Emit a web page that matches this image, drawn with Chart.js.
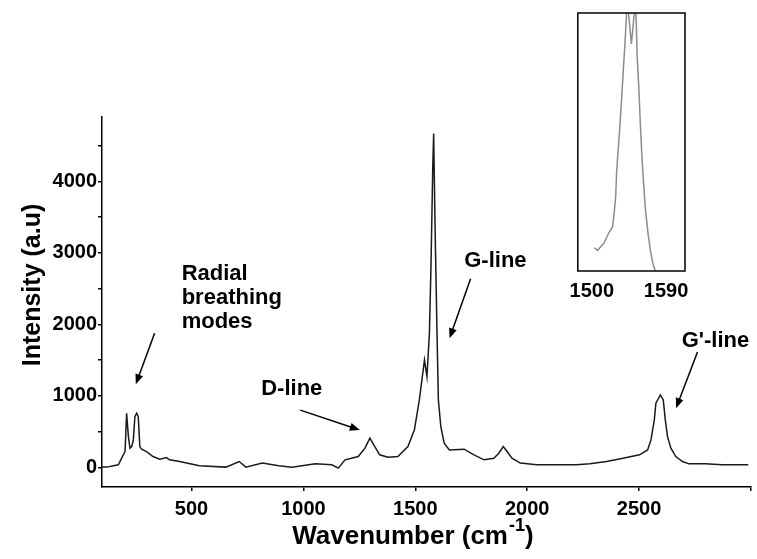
<!DOCTYPE html>
<html>
<head>
<meta charset="utf-8">
<script src="https://cdn.jsdelivr.net/npm/chart.js@4.4.0/dist/chart.umd.min.js"></script>
<style>
    html, body { margin: 0; padding: 0; background: #fff; }
    #wrap { position: relative; width: 757px; height: 559px; }
    #mainChart { position: absolute; left: 0; top: 0; }
    #insetChart { position: absolute; left: 560px; top: 0; }
</style>
</head>
<body>
<div id="wrap">
    <canvas id="mainChart" width="757" height="559"></canvas>
    <canvas id="insetChart" width="140" height="310"></canvas>
</div>
<script>
// main spectrum
const wavenumber = [100, 122, 151, 173, 188, 195, 203, 210, 218, 225, 233, 240, 247, 255, 262, 269, 277, 299, 328, 358,
    388, 402, 447, 535, 654, 713, 743, 816, 890, 949, 1053, 1127, 1156, 1186, 1245, 1275, 1297, 1319, 1341, 1378,
    1422, 1467, 1496, 1518, 1541, 1552, 1563, 1570, 1578, 1582, 1588, 1597, 1603, 1614, 1629, 1652, 1718, 1762, 1807, 1851,
    1873, 1893, 1910, 1932, 1969, 2043, 2132, 2221, 2280, 2354, 2428, 2502, 2538, 2553, 2568, 2575, 2595, 2608, 2617, 2627,
    2642, 2664, 2694, 2723, 2797, 2871, 2988];
const intensity = [3, 3, 21, 35, 128, 175, 221, 757, 430, 268, 290, 384, 709, 757, 709, 290, 254, 221, 151, 115,
    137, 105, 81, 21, 3, 81, 3, 59, 21, 3, 49, 35, -11, 105, 151, 268, 408, 290, 175, 142,
    151, 290, 524, 943, 1501, 1268, 1874, 2804, 4201, 4668, 3411, 1874, 943, 570, 338, 244, 254, 175, 105, 128,
    198, 290, 221, 128, 59, 35, 35, 35, 49, 81, 128, 175, 244, 384, 663, 897, 1013, 943, 663, 430,
    268, 151, 81, 49, 49, 35, 35];

const xTicks = [500, 1000, 1500, 2000, 2500, 3000];
const xLabels = [500, 1000, 1500, 2000, 2500];
const yTicks = [0, 500, 1000, 1500, 2000, 2500, 3000, 3500, 4000, 4500];
const yLabels = [0, 1000, 2000, 3000, 4000];

// inset: G band close up (relative scale, clipped at the top)
const insetX = [1503, 1507, 1515, 1521, 1525, 1527, 1529, 1530, 1532, 1534, 1536, 1538, 1540, 1542, 1543,
    1548, 1553, 1554, 1555, 1557, 1559, 1561, 1563, 1565, 1568, 1571, 1574, 1577];
const insetY = [9, 8, 11, 15, 17, 22, 29, 38, 47, 56, 66, 77, 87, 99, 105,
    88, 105, 95, 83, 71, 56, 43, 33, 24, 15, 8, 3, 0];
const insetTicks = [1500, 1590];

// annotations: [text, x, y, align]
const notes = [
    ['Radial', 456, 2619, 'left'],
    ['breathing', 456, 2284, 'left'],
    ['modes', 456, 1948, 'left'],
    ['D-line', 948, 1013, 'center'],
    ['G-line', 1858, 2800, 'center'],
    ["G'-line", 2841, 1683, 'center']
];
// arrows: [fromX, fromY, toX, toY]
const arrows = [
    [335, 1874, 251, 1163],
    [986, 800, 1252, 521],
    [1747, 2638, 1653, 1804],
    [2761, 1613, 2665, 828]
];

const FONT = "'Liberation Sans', Arial, sans-serif";

function drawArrow(ctx, x1, y1, x2, y2) {
    const ang = Math.atan2(y2 - y1, x2 - x1);
    const len = 10, half = 4;
    ctx.beginPath();
    ctx.moveTo(x1, y1);
    ctx.lineTo(x2 - Math.cos(ang) * len * 0.8, y2 - Math.sin(ang) * len * 0.8);
    ctx.stroke();
    ctx.beginPath();
    ctx.moveTo(x2, y2);
    ctx.lineTo(x2 - Math.cos(ang) * len - Math.sin(ang) * half, y2 - Math.sin(ang) * len + Math.cos(ang) * half);
    ctx.lineTo(x2 - Math.cos(ang) * len + Math.sin(ang) * half, y2 - Math.sin(ang) * len - Math.cos(ang) * half);
    ctx.closePath();
    ctx.fill();
}

const annotate = {
    id: 'annotate',
    afterDraw(chart) {
        const ctx = chart.ctx;
        const xs = chart.scales.x, ys = chart.scales.y;
        ctx.save();
        ctx.fillStyle = '#000';
        ctx.strokeStyle = '#000';
        ctx.lineWidth = 1.5;
        ctx.textBaseline = 'alphabetic';
        ctx.font = 'bold 22px ' + FONT;
        notes.forEach(n => {
            ctx.textAlign = n[3];
            ctx.fillText(n[0], xs.getPixelForValue(n[1]), ys.getPixelForValue(n[2]));
        });
        arrows.forEach(a => drawArrow(ctx,
            xs.getPixelForValue(a[0]), ys.getPixelForValue(a[1]),
            xs.getPixelForValue(a[2]), ys.getPixelForValue(a[3])));

        // x title with superscript
        ctx.textAlign = 'left';
        let tx = xs.getPixelForValue(950);
        const ty = 544;
        ctx.font = 'bold 26px ' + FONT;
        ctx.fillText('Wavenumber (cm', tx, ty);
        tx += ctx.measureText('Wavenumber (cm').width + 1;
        ctx.font = 'bold 18px ' + FONT;
        ctx.fillText('-1', tx, ty - 13);
        tx += ctx.measureText('-1').width;
        ctx.font = 'bold 26px ' + FONT;
        ctx.fillText(')', tx, ty);

        // y title
        ctx.translate(33, 285);
        ctx.rotate(-Math.PI / 2);
        ctx.textAlign = 'center';
        ctx.textBaseline = 'middle';
        ctx.font = 'bold 25px ' + FONT;
        ctx.fillText('Intensity (a.u)', 0, 0);
        ctx.restore();
    }
};

const frame = {
    id: 'frame',
    afterDraw(chart) {
        const { ctx, chartArea } = chart;
        ctx.save();
        ctx.strokeStyle = '#000';
        ctx.lineWidth = 1.5;
        ctx.strokeRect(chartArea.left, chartArea.top, chartArea.right - chartArea.left, chartArea.bottom - chartArea.top);
        ctx.restore();
    }
};

const tickFont = { family: FONT, size: 20, weight: 'bold' };

new Chart(document.getElementById('mainChart').getContext('2d'), {
    type: 'line',
    data: {
        datasets: [{
            data: wavenumber.map((w, i) => ({ x: w, y: intensity[i] })),
            borderColor: '#1a1a1a',
            borderWidth: 1.5,
            pointRadius: 0,
            tension: 0,
            fill: false
        }]
    },
    options: {
        responsive: false,
        animation: false,
        layout: { padding: { top: 117, right: 2, left: 0, bottom: 0 } },
        plugins: { legend: { display: false }, tooltip: { enabled: false } },
        scales: {
            x: {
                type: 'linear',
                min: 100,
                max: 3000,
                afterBuildTicks: a => { a.ticks = xTicks.map(v => ({ value: v })); },
                afterFit: a => { a.height = 72; },
                grid: { display: true, drawOnChartArea: false, drawTicks: true, tickLength: 4, color: '#000', lineWidth: 1.5 },
                border: { display: true, color: '#000', width: 1.5 },
                ticks: {
                    font: tickFont, color: '#000', padding: 6, maxRotation: 0, autoSkip: false,
                    callback: v => xLabels.includes(v) ? String(v) : ''
                }
            },
            y: {
                type: 'linear',
                min: -275,
                max: 4900,
                afterBuildTicks: a => { a.ticks = yTicks.map(v => ({ value: v })); },
                afterFit: a => { a.width = 102; },
                grid: { display: true, drawOnChartArea: false, drawTicks: true, tickLength: 4, color: '#000', lineWidth: 1.5 },
                border: { display: true, color: '#000', width: 1.5 },
                ticks: {
                    font: tickFont, color: '#000', padding: 1, autoSkip: false,
                    callback: v => yLabels.includes(v) ? String(v) : ''
                }
            }
        }
    },
    plugins: [annotate]
});

new Chart(document.getElementById('insetChart').getContext('2d'), {
    type: 'line',
    data: {
        datasets: [{
            data: insetX.map((w, i) => ({ x: w, y: insetY[i] })),
            borderColor: '#8c8c8c',
            borderWidth: 1.5,
            pointRadius: 0,
            tension: 0,
            fill: false
        }]
    },
    options: {
        responsive: false,
        animation: false,
        layout: { padding: { top: 13, right: 15, left: 12, bottom: 0 } },
        plugins: { legend: { display: false }, tooltip: { enabled: false } },
        scales: {
            x: {
                type: 'linear',
                min: 1483,
                max: 1613,
                afterBuildTicks: a => { a.ticks = insetTicks.map(v => ({ value: v })); },
                afterFit: a => { a.height = 39; },
                grid: { display: false, drawTicks: false },
                border: { display: false },
                ticks: {
                    font: tickFont, color: '#000', padding: 8, maxRotation: 0, autoSkip: false,
                    callback: v => String(v)
                }
            },
            y: { display: false, min: 0, max: 100 }
        }
    },
    plugins: [frame]
});
</script>
</body>
</html>
